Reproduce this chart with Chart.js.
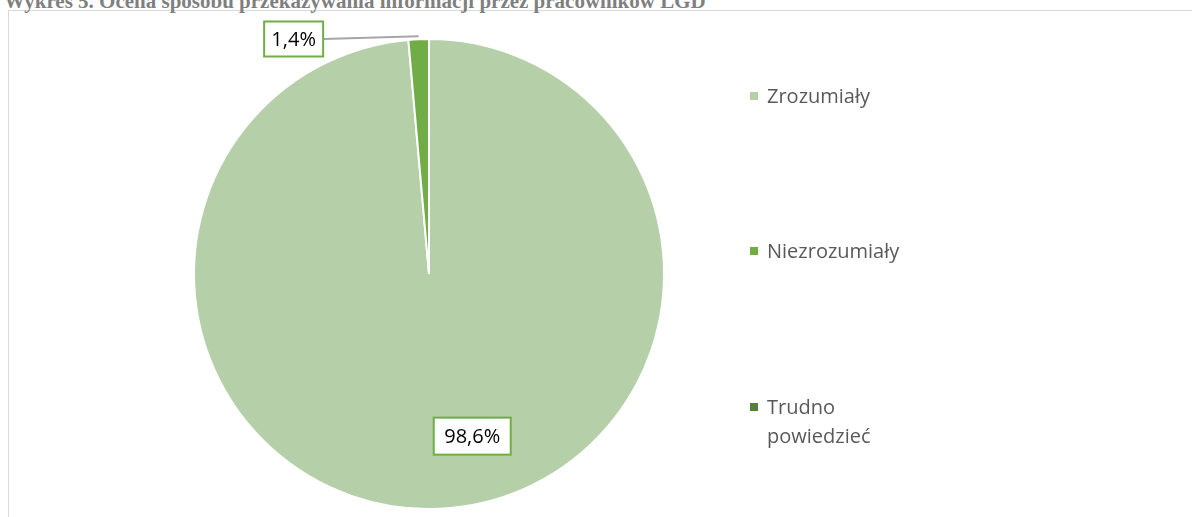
<!DOCTYPE html>
<html lang="pl">

<head>
    <meta charset="UTF-8" />
    <title>Wykres 5</title>
    <script src="https://cdn.jsdelivr.net/npm/chart.js"></script>
    <style>
        html, body {
            margin: 0;
            padding: 0;
            background: #ffffff;
            overflow: hidden;
        }

        #wrap {
            position: relative;
            width: 1192px;
            height: 517px;
        }

        #frame {
            position: absolute;
            left: 8px;
            top: 10px;
            width: 1200px;
            height: 520px;
            border: 1px solid #d9d9d9;
        }

        #title {
            position: absolute;
            left: 4px;
            top: -9px;
            font: bold 21px "Liberation Serif", "Times New Roman", serif;
            line-height: 20px;
            color: #7f7f7f;
            white-space: nowrap;
        }

        canvas {
            position: absolute;
            left: 0;
            top: 0;
        }
    </style>
</head>

<body>
    <div id="wrap">
        <div id="frame"></div>
        <div id="title">Wykres 5. Ocena sposobu przekazywania informacji przez pracowników LGD</div>
        <canvas id="pieChart" width="1192" height="517"></canvas>
    </div>

    <script>
        const categories = ["Zrozumiały", "Niezrozumiały", "Trudno powiedzieć"];
        const shares = [98.6, 1.4, 0];
        const valueLabels = ["98,6%", "1,4%", ""];
        const colors = ["#b5cfa8", "#70ad47", "#548235"];

        // legend lines (Trudno powiedzieć wraps in two lines)
        const legendLines = [["Zrozumiały"], ["Niezrozumiały"], ["Trudno", "powiedzieć"]];

        // data labels in boxes + leader line, and the legend on the right
        const boxLabels = {
            id: "boxLabels",
            afterDraw(chart) {
                const ctx = chart.ctx;
                const arcs = chart.getDatasetMeta(0).data;
                const big = arcs[0];
                const r = big.outerRadius;
                const cx = big.x, cy = big.y;

                ctx.save();
                ctx.font = "20px 'Open Sans'";
                ctx.textAlign = "center";
                ctx.textBaseline = "middle";

                function box(text, mx, my, w, h) {
                    ctx.fillStyle = "#ffffff";
                    ctx.fillRect(mx - w / 2, my - h / 2, w, h);
                    ctx.strokeStyle = "#70ad47";
                    ctx.lineWidth = 2;
                    ctx.strokeRect(mx - w / 2, my - h / 2, w, h);
                    ctx.fillStyle = "#000000";
                    ctx.fillText(text, mx, my + 1);
                }

                // 98,6% - inside the big slice
                box(valueLabels[0], cx + 0.184 * r, cy + 0.69 * r, 77, 37);

                // 1,4% - outside, with leader line to the small slice
                const small = arcs[1];
                const mid = (small.startAngle + small.endAngle) / 2;
                const ex = cx + Math.cos(mid) * (r + 1);
                const ey = cy + Math.sin(mid) * (r + 3);
                const bx = cx - 0.576 * r, by = cy - 1.0 * r;
                ctx.strokeStyle = "#a6a6a6";
                ctx.lineWidth = 2;
                ctx.beginPath();
                ctx.moveTo(bx + 30, by);
                ctx.lineTo(ex, ey);
                ctx.stroke();
                box(valueLabels[1], bx, by, 59, 35);

                // legend
                ctx.textAlign = "left";
                ctx.textBaseline = "alphabetic";
                ctx.font = "20px 'Open Sans'";
                const legendTop = [103, 258, 414];
                legendLines.forEach((lines, i) => {
                    ctx.fillStyle = colors[i];
                    ctx.fillRect(750, legendTop[i] - 11, 8, 8);
                    ctx.fillStyle = "#595959";
                    lines.forEach((t, j) => ctx.fillText(t, 767, legendTop[i] + j * 29));
                });
                ctx.restore();
            }
        };

        new Chart(document.getElementById("pieChart"), {
            type: "pie",
            data: {
                labels: categories,
                datasets: [{
                    data: shares,
                    backgroundColor: colors,
                    borderColor: "#ffffff",
                    borderWidth: 2,
                    hoverOffset: 0
                }]
            },
            options: {
                responsive: false,
                animation: false,
                radius: 235,
                layout: {
                    padding: { left: 189, right: 523, top: 34, bottom: 3 }
                },
                plugins: {
                    legend: { display: false },
                    tooltip: { enabled: false },
                    title: { display: false }
                }
            },
            plugins: [boxLabels]
        });
    </script>
</body>

</html>
